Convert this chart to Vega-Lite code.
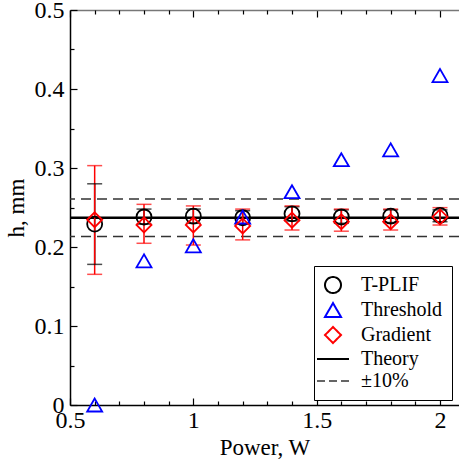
{
  "$schema": "https://vega.github.io/schema/vega-lite/v6.json",
  "width": 389,
  "height": 395,
  "autosize": "none",
  "padding": {"left": 70, "top": 10, "right": 0, "bottom": 60},
  "config": {
    "font": "Liberation Serif",
    "view": {"stroke": null},
    "axis": {
      "labelFont": "Liberation Serif",
      "titleFont": "Liberation Serif",
      "labelFontSize": 24,
      "titleFontSize": 23,
      "labelColor": "black",
      "titleColor": "black",
      "titleFontWeight": "normal",
      "labelFlush": false,
      "labelOverlap": false,
      "labelBound": false,
      "grid": false,
      "domainColor": "black",
      "domainWidth": 1.5,
      "tickColor": "black",
      "tickWidth": 1.2
    }
  },
  "datasets": {
    "lines": [
      {"series": "Theory", "h": 0.237},
      {"series": "±10%", "h": 0.2607},
      {"series": "±10%", "h": 0.2133}
    ],
    "pts": [
      {"power": 0.6, "series": "T-PLIF", "h": 0.229, "lo": 0.178, "hi": 0.280},
      {"power": 0.8, "series": "T-PLIF", "h": 0.238, "lo": 0.229, "hi": 0.248},
      {"power": 1.0, "series": "T-PLIF", "h": 0.239, "lo": 0.230, "hi": 0.248},
      {"power": 1.2, "series": "T-PLIF", "h": 0.237, "lo": 0.229, "hi": 0.246},
      {"power": 1.4, "series": "T-PLIF", "h": 0.242, "lo": 0.233, "hi": 0.251},
      {"power": 1.6, "series": "T-PLIF", "h": 0.238, "lo": 0.230, "hi": 0.247},
      {"power": 1.8, "series": "T-PLIF", "h": 0.239, "lo": 0.231, "hi": 0.247},
      {"power": 2.0, "series": "T-PLIF", "h": 0.240, "lo": 0.232, "hi": 0.247},
      {"power": 0.6, "series": "Threshold", "h": 0.0},
      {"power": 0.8, "series": "Threshold", "h": 0.1825},
      {"power": 1.0, "series": "Threshold", "h": 0.2015},
      {"power": 1.2, "series": "Threshold", "h": 0.238},
      {"power": 1.4, "series": "Threshold", "h": 0.270},
      {"power": 1.6, "series": "Threshold", "h": 0.3105},
      {"power": 1.8, "series": "Threshold", "h": 0.323},
      {"power": 2.0, "series": "Threshold", "h": 0.417},
      {"power": 0.6, "series": "Gradient", "h": 0.2345, "lo": 0.1654, "hi": 0.303},
      {"power": 0.8, "series": "Gradient", "h": 0.228, "lo": 0.2047, "hi": 0.254},
      {"power": 1.0, "series": "Gradient", "h": 0.228, "lo": 0.2025, "hi": 0.252},
      {"power": 1.2, "series": "Gradient", "h": 0.2266, "lo": 0.209, "hi": 0.248},
      {"power": 1.4, "series": "Gradient", "h": 0.234, "lo": 0.2215, "hi": 0.252},
      {"power": 1.6, "series": "Gradient", "h": 0.232, "lo": 0.220, "hi": 0.248},
      {"power": 1.8, "series": "Gradient", "h": 0.232, "lo": 0.2215, "hi": 0.248},
      {"power": 2.0, "series": "Gradient", "h": 0.238, "lo": 0.2278, "hi": 0.2498}
    ]
  },
  "resolve": {"axis": {"x": "independent", "y": "independent"}},
  "layer": [
    {
      "data": {"name": "lines"},
      "mark": {"type": "rule"},
      "encoding": {
        "y": {
          "field": "h", "type": "quantitative",
          "scale": {"domain": [0, 0.5], "nice": false, "zero": false},
          "axis": {"orient": "left", "values": [0, 0.1, 0.2, 0.3, 0.4, 0.5], "format": "~g", "ticks": false, "labelPadding": 6, "title": "h, mm", "titlePadding": 6}
        },
        "stroke": {
          "field": "series", "type": "nominal",
          "scale": {"domain": ["T-PLIF", "Threshold", "Gradient", "Theory", "±10%"], "range": ["black", "#0000ff", "#ff0000", "black", "#333333"]},
          "legend": {
            "orient": "none", "legendX": 244, "legendY": 256, "title": null,
            "strokeColor": "black", "fillColor": "white", "padding": 9,
            "labelFont": "Liberation Serif", "labelFontSize": 20, "labelColor": "black",
            "symbolSize": 256, "symbolStrokeWidth": 2, "symbolFillColor": "transparent",
            "labelOffset": 18, "rowPadding": 2,
            "encode": {"symbols": {"update": {
              "fill": {"value": "transparent"},
              "strokeDash": {"signal": "datum.value === '±10%' ? [8, 4] : [1, 0]"},
              "strokeWidth": {"signal": "datum.value === '±10%' ? 1.3 : 2"}
            }}}
          }
        },
        "strokeDash": {
          "field": "series", "type": "nominal",
          "scale": {"domain": ["Theory", "±10%"], "range": [[1, 0], [10, 6]]},
          "legend": null
        },
        "strokeWidth": {
          "field": "series", "type": "nominal",
          "scale": {"domain": ["Theory", "±10%"], "range": [2.5, 1.5]},
          "legend": null
        }
      }
    },
    {
      "data": {"name": "pts"},
      "transform": [{"filter": "datum.series !== 'Threshold'"}],
      "mark": {"type": "rule", "strokeWidth": 1.5},
      "encoding": {
        "x": {
          "field": "power", "type": "quantitative",
          "scale": {"domain": [0.5, 2.077], "nice": false, "zero": false},
          "axis": {"orient": "bottom", "values": [0.5, 1, 1.5, 2], "format": "~g", "ticks": false, "labelPadding": 3, "title": "Power, W", "titlePadding": 4}
        },
        "y": {"field": "lo", "type": "quantitative", "axis": null},
        "y2": {"field": "hi"},
        "stroke": {"field": "series", "type": "nominal"}
      }
    },
    {
      "data": {"name": "pts"},
      "transform": [{"filter": "datum.series !== 'Threshold'"}],
      "mark": {"type": "tick", "orient": "horizontal", "size": 15, "thickness": 1.5},
      "encoding": {
        "x": {
          "field": "power", "type": "quantitative",
          "axis": {"orient": "bottom", "values": [0.5, 1, 1.5, 2], "labels": false, "domain": false, "tickSize": -7, "title": null}
        },
        "y": {
          "field": "lo", "type": "quantitative",
          "axis": {"orient": "left", "values": [0, 0.1, 0.2, 0.3, 0.4, 0.5], "labels": false, "domain": false, "tickSize": -7, "title": null}
        },
        "color": {
          "field": "series", "type": "nominal",
          "scale": {"domain": ["T-PLIF", "Gradient"], "range": ["black", "#ff0000"]},
          "legend": null
        }
      }
    },
    {
      "data": {"name": "pts"},
      "transform": [{"filter": "datum.series !== 'Threshold'"}],
      "mark": {"type": "tick", "orient": "horizontal", "size": 15, "thickness": 1.5},
      "encoding": {
        "x": {
          "field": "power", "type": "quantitative",
          "axis": {"orient": "bottom", "values": [0.6, 0.7, 0.8, 0.9, 1.1, 1.2, 1.3, 1.4, 1.6, 1.7, 1.8, 1.9], "labels": false, "domain": false, "tickSize": -4, "title": null}
        },
        "y": {
          "field": "hi", "type": "quantitative",
          "axis": {"orient": "left", "values": [0.05, 0.15, 0.25, 0.35, 0.45], "labels": false, "domain": false, "tickSize": -4, "title": null}
        },
        "color": {"field": "series", "type": "nominal", "legend": null}
      }
    },
    {
      "data": {"name": "pts"},
      "mark": {"type": "point", "filled": false, "strokeWidth": 1.8, "opacity": 1},
      "encoding": {
        "x": {
          "field": "power", "type": "quantitative",
          "axis": {"orient": "top", "values": [0.5, 1, 1.5, 2], "labels": false, "domainColor": "#777777", "tickSize": -7, "title": null}
        },
        "y": {"field": "h", "type": "quantitative", "axis": null},
        "shape": {
          "field": "series", "type": "nominal",
          "scale": {"domain": ["T-PLIF", "Threshold", "Gradient", "Theory", "±10%"], "range": ["circle", "triangle-up", "diamond", "M-2,0H2", "M-2,0H2"]}
        },
        "size": {"value": 225},
        "stroke": {"field": "series", "type": "nominal"}
      }
    },
    {
      "data": {"name": "pts"},
      "mark": {"type": "point", "opacity": 0},
      "encoding": {
        "x": {
          "field": "power", "type": "quantitative",
          "axis": {"orient": "top", "values": [0.6, 0.7, 0.8, 0.9, 1.1, 1.2, 1.3, 1.4, 1.6, 1.7, 1.8, 1.9], "labels": false, "domain": false, "tickSize": -4, "title": null}
        },
        "y": {"field": "h", "type": "quantitative", "axis": null}
      }
    }
  ]
}
